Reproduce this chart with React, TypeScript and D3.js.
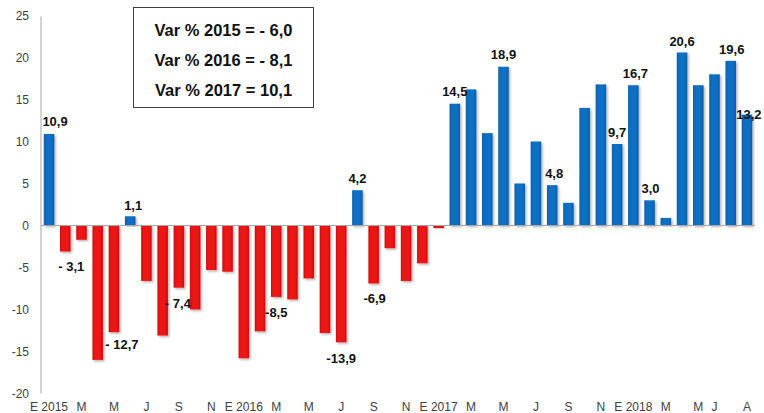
import React from "react";
import * as d3 from "d3";

const months = [
  "2015-01","2015-02","2015-03","2015-04","2015-05","2015-06","2015-07","2015-08","2015-09","2015-10","2015-11","2015-12",
  "2016-01","2016-02","2016-03","2016-04","2016-05","2016-06","2016-07","2016-08","2016-09","2016-10","2016-11","2016-12",
  "2017-01","2017-02","2017-03","2017-04","2017-05","2017-06","2017-07","2017-08","2017-09","2017-10","2017-11","2017-12",
  "2018-01","2018-02","2018-03","2018-04","2018-05","2018-06","2018-07","2018-08",
];

const values = [
  10.9, -3.1, -1.7, -16.0, -12.7, 1.1, -6.6, -13.1, -7.4, -10.0, -5.3, -5.5,
  -15.8, -12.6, -8.5, -8.8, -6.3, -12.8, -13.9, 4.2, -6.9, -2.7, -6.6, -4.5,
  -0.3, 14.5, 16.2, 11.0, 18.9, 5.0, 10.0, 4.8, 2.7, 14.0, 16.8, 9.7,
  16.7, 3.0, 0.9, 20.6, 16.7, 18.0, 19.6, 13.2,
];

const tickLabels = [
  "E 2015","","M","","M","","J","","S","","N","",
  "E 2016","","M","","M","","J","","S","","N","",
  "E 2017","","M","","M","","J","","S","","N","",
  "E 2018","","M","","M","J","","A",
];

const labelIndex = [0, 1, 4, 5, 8, 14, 18, 19, 20, 25, 28, 31, 35, 36, 37, 39, 42, 43];
const labelText = ["10,9", "-  3,1", "-  12,7", "1,1", "-  7,4", "-8,5", "-13,9", "4,2", "-6,9", "14,5", "18,9", "4,8", "9,7", "16,7", "3,0", "20,6", "19,6", "13,2"];

const yTicks = [-20, -15, -10, -5, 0, 5, 10, 15, 20, 25];

const boxLines = ["Var % 2015 = - 6,0", "Var % 2016 = - 8,1", "Var % 2017 = 10,1"];

const W = 764;
const H = 413;

export default function App() {
  const x = d3.scaleBand<string>().domain(months).range([41, 755]).paddingInner(0.35).paddingOuter(0.17);
  const y = d3.scaleLinear().domain([-20, 25]).range([393.5, 15.5]);
  const bw = x.bandwidth();
  const font = "'Liberation Sans', Arial, sans-serif";
  const labelOffsets: Record<number, [number, number]> = {
    0: [6, -12], 1: [6, 15], 4: [8, 12], 5: [3, -11], 8: [-1, 16], 14: [0, 16], 18: [0, 16], 19: [0, -12], 20: [1, 15],
    25: [0, -12], 28: [0, -12], 31: [2, -12], 35: [0, -12], 36: [2, -12], 37: [1, -12], 39: [0, -11], 42: [1, -11], 43: [2, 0],
  };

  return (
    <svg width={W} height={H} style={{ position: "absolute", left: 0, top: 0, background: "#fff" }}>
      <defs>
        <linearGradient id="gBlue" x1="0" x2="1" y1="0" y2="0">
          <stop offset="0" stopColor="#0a62b0" />
          <stop offset="0.3" stopColor="#0b6fc4" />
          <stop offset="0.7" stopColor="#0b6fc4" />
          <stop offset="1" stopColor="#0a5ea8" />
        </linearGradient>
        <linearGradient id="gRed" x1="0" x2="1" y1="0" y2="0">
          <stop offset="0" stopColor="#d80f0f" />
          <stop offset="0.3" stopColor="#ec1515" />
          <stop offset="0.7" stopColor="#ec1515" />
          <stop offset="1" stopColor="#d00e0e" />
        </linearGradient>
        <filter id="sh" x="-30%" y="-10%" width="160%" height="120%">
          <feDropShadow dx="1.5" dy="1.5" stdDeviation="1" floodColor="#000" floodOpacity="0.3" />
        </filter>
      </defs>

      {/* y axis */}
      <line x1={41} x2={41} y1={y(25) + 1} y2={y(-20)} stroke="#a6a6a6" strokeWidth={1} />
      {yTicks.map((t) => (
        <text key={t} x={29} y={y(t)} dy="0.35em" textAnchor="end" fontFamily={font} fontSize={12} fill="#404040">
          {t}
        </text>
      ))}

      {/* bars */}
      {values.map((v, i) => {
        const m = months[i];
        const y0 = y(0);
        const yv = y(v);
        return (
          <rect
            key={m}
            x={x(m)}
            y={Math.min(y0, yv)}
            width={bw}
            height={Math.max(1, Math.abs(yv - y0))}
            fill={v >= 0 ? "url(#gBlue)" : "url(#gRed)"}
            filter="url(#sh)"
          />
        );
      })}

      {/* zero line */}
      <line x1={41} x2={755} y1={y(0)} y2={y(0)} stroke="#a6a6a6" strokeWidth={1} />

      {/* x labels */}
      {tickLabels.map((t, i) =>
        t ? (
          <text key={i} x={(x(months[i]) as number) + bw / 2} y={411} textAnchor="middle" fontFamily={font} fontSize={12} fill="#404040">
            {t}
          </text>
        ) : null
      )}

      {/* data labels */}
      {labelIndex.map((idx, k) => {
        const v = values[idx];
        const [dx, dy] = labelOffsets[idx];
        const cx = (x(months[idx]) as number) + bw / 2 + dx;
        const cy = y(v) + dy;
        return (
          <text key={idx} x={cx} y={cy} dy="0.35em" textAnchor="middle" fontFamily={font} fontSize={13} fontWeight="bold" fill="#111">
            {labelText[k]}
          </text>
        );
      })}

      {/* annotation box */}
      <rect x={133.5} y={7.5} width={180} height={100} fill="#fff" stroke="#404040" strokeWidth={1} />
      {boxLines.map((l, i) => (
        <text key={l} x={223.5} y={30 + i * 30} dy="0.35em" textAnchor="middle" fontFamily={font} fontSize={16.5} fontWeight="bold" fill="#111">
          {l}
        </text>
      ))}
    </svg>
  );
}
